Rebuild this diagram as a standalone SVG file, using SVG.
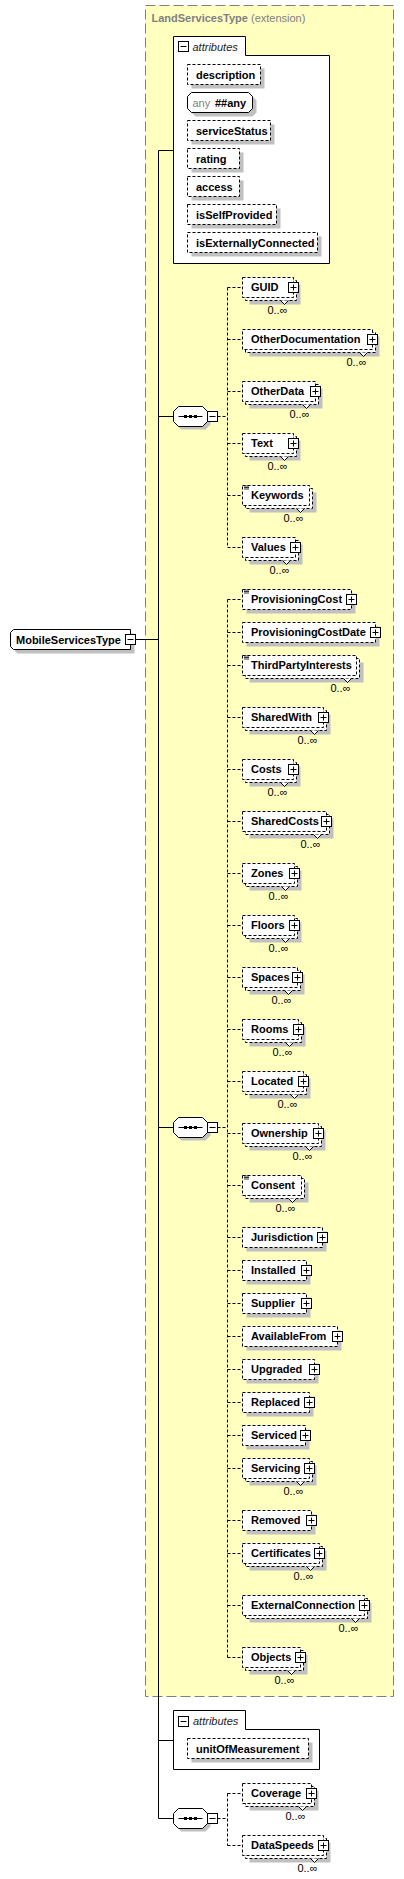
<svg xmlns="http://www.w3.org/2000/svg" xmlns:xlink="http://www.w3.org/1999/xlink" width="404" height="1879" viewBox="0 0 404 1879">
<style>
.t{font-family:"Liberation Sans",Arial,sans-serif;font-size:11px;font-weight:bold;fill:#000}
.m{font-family:"Liberation Sans",Arial,sans-serif;font-size:11px;fill:#000;text-anchor:end}
.i{font-family:"Liberation Sans",Arial,sans-serif;font-size:11px;font-style:italic;fill:#222}
.g{font-family:"Liberation Sans",Arial,sans-serif;font-size:11px;fill:#808080}
.el{fill:#fff;stroke:#000;stroke-width:1;stroke-dasharray:3,2}
.so{fill:#fff;stroke:#000;stroke-width:1}
.sh{fill:#c0c0c0}
.nt{fill:#fff;stroke:#000;stroke-width:1}
.cn{fill:none;stroke:#000;stroke-width:1}
.cd{fill:none;stroke:#000;stroke-width:1;stroke-dasharray:3,2}
</style>
<defs>
<g id="plus"><rect x="-5" y="-5" width="10" height="10" fill="#fff" stroke="#000"/><path d="M-3 0H3M0 -3V3" stroke="#000"/></g>
<g id="minus"><rect x="-5" y="-5" width="10" height="10" fill="#fff" stroke="#000"/><path d="M-3 0H3" stroke="#000"/></g>
<g id="eq"><path d="M244 -9H249M244 -7.5H249M244 -6H249" stroke="#000" stroke-width="0.8"/></g>
<g id="seqshape">
<polygon class="sh" transform="translate(3,3)" points="178.5,-9.5 202.5,-9.5 207.5,-4.5 207.5,5.5 202.5,10.5 178.5,10.5 173.5,5.5 173.5,-4.5"/>
<polygon class="so" points="178.5,-9.5 202.5,-9.5 207.5,-4.5 207.5,5.5 202.5,10.5 178.5,10.5 173.5,5.5 173.5,-4.5"/>
<path d="M178.5 0.5H202.5" stroke="#000"/>
<rect x="184" y="-1" width="3" height="3" fill="#000"/>
<rect x="189" y="-1" width="3" height="3" fill="#000"/>
<rect x="194" y="-1" width="3" height="3" fill="#000"/>
<use xlink:href="#minus" href="#minus" x="212.5" y="0.5"/>
</g>
</defs>

<rect id="bg" x="0" y="0" width="404" height="1879" fill="#fff"/>

<g id="LandServicesType">
<rect x="145.5" y="5.5" width="248" height="1691" fill="#ffffc0" stroke="#808080" stroke-dasharray="10,4"/>
<text x="151.5" y="21.5" class="g"><tspan font-weight="bold">LandServicesType</tspan> (extension)</text>
</g>

<g id="connectors">
<path class="cn" d="M158.5 150.5V1818.5M158.5 150.5H173.5M135.5 639.5H158.5M158.5 416.5H173.5M158.5 1127.5H173.5M158.5 1740.5H173.5M158.5 1818.5H173.5"/>
<path class="cd" d="M217.5 416.5H227.5M227.5 287.5V547.5M227.5 287.5H242.5M227.5 339.5H242.5M227.5 391.5H242.5M227.5 443.5H242.5M227.5 495.5H242.5M227.5 547.5H242.5"/>
<path class="cd" d="M217.5 1127.5H227.5M227.5 599.5V1657.5M227.5 599.5H242.5M227.5 632.5H242.5M227.5 665.5H242.5M227.5 717.5H242.5M227.5 769.5H242.5M227.5 821.5H242.5M227.5 873.5H242.5M227.5 925.5H242.5M227.5 977.5H242.5M227.5 1029.5H242.5M227.5 1081.5H242.5M227.5 1133.5H242.5M227.5 1185.5H242.5M227.5 1237.5H242.5M227.5 1270.5H242.5M227.5 1303.5H242.5M227.5 1336.5H242.5M227.5 1369.5H242.5M227.5 1402.5H242.5M227.5 1435.5H242.5M227.5 1468.5H242.5M227.5 1520.5H242.5M227.5 1553.5H242.5M227.5 1605.5H242.5M227.5 1657.5H242.5"/>
<path class="cd" d="M217.5 1818.5H227.5M227.5 1793.5V1845.5M227.5 1793.5H242.5M227.5 1845.5H242.5"/>
</g>

<g id="MobileServicesType">
<polygon class="sh" transform="translate(4,4)" points="13.5,629.5 130.5,629.5 130.5,649.5 13.5,649.5 10.5,646.5 10.5,632.5"/>
<polygon class="so" points="13.5,629.5 130.5,629.5 130.5,649.5 13.5,649.5 10.5,646.5 10.5,632.5"/>
<text class="t" x="16" y="643.5">MobileServicesType</text>
<use xlink:href="#minus" href="#minus" x="130.5" y="639.5"/>
</g>

<g id="attributes1">
<polygon class="so" points="173.5,263.5 173.5,36.5 245.5,36.5 245.5,55.5 329.5,55.5 329.5,263.5"/>
<use xlink:href="#minus" href="#minus" x="183.5" y="46.5"/>
<text class="i" x="192.5" y="50.5">attributes</text>
</g>
<g id="a-description"><rect class="sh" x="191.5" y="68.5" width="73" height="20"/><rect class="el" x="187.5" y="64.5" width="73" height="20"/><text class="t" x="196" y="78.5">description</text></g>
<g id="a-any"><polygon class="sh" transform="translate(4,4)" points="191.5,92.5 248.5,92.5 252.5,96.5 252.5,108.5 248.5,112.5 191.5,112.5 187.5,108.5 187.5,96.5"/><polygon class="so" points="191.5,92.5 248.5,92.5 252.5,96.5 252.5,108.5 248.5,112.5 191.5,112.5 187.5,108.5 187.5,96.5"/><text class="g" x="192.5" y="106.5">any</text><text class="t" x="215" y="106.5">##any</text></g>
<g id="a-serviceStatus"><rect class="sh" x="191.5" y="124.5" width="83" height="20"/><rect class="el" x="187.5" y="120.5" width="83" height="20"/><text class="t" x="196" y="134.5">serviceStatus</text></g>
<g id="a-rating"><rect class="sh" x="191.5" y="152.5" width="52" height="20"/><rect class="el" x="187.5" y="148.5" width="52" height="20"/><text class="t" x="196" y="162.5">rating</text></g>
<g id="a-access"><rect class="sh" x="191.5" y="180.5" width="52" height="20"/><rect class="el" x="187.5" y="176.5" width="52" height="20"/><text class="t" x="196" y="190.5">access</text></g>
<g id="a-isSelfProvided"><rect class="sh" x="191.5" y="208.5" width="89" height="20"/><rect class="el" x="187.5" y="204.5" width="89" height="20"/><text class="t" x="196" y="218.5">isSelfProvided</text></g>
<g id="a-isExternallyConnected"><rect class="sh" x="191.5" y="236.5" width="130" height="20"/><rect class="el" x="187.5" y="232.5" width="130" height="20"/><text class="t" x="196" y="246.5">isExternallyConnected</text></g>

<g id="attributes2">
<polygon class="so" points="173.5,1769.5 173.5,1710.5 245.5,1710.5 245.5,1729.5 319.5,1729.5 319.5,1769.5"/>
<use xlink:href="#minus" href="#minus" x="183.5" y="1721.5"/>
<text class="i" x="193" y="1725">attributes</text>
</g>
<g id="a-unitOfMeasurement"><rect class="sh" x="191.5" y="1742.5" width="121" height="20"/><rect class="el" x="187.5" y="1738.5" width="121" height="20"/><text class="t" x="196" y="1752.5">unitOfMeasurement</text></g>

<g id="sequence1" transform="translate(0,416)"><use xlink:href="#seqshape" href="#seqshape"/></g>
<g id="sequence2" transform="translate(0,1127)"><use xlink:href="#seqshape" href="#seqshape"/></g>
<g id="sequence3" transform="translate(0,1818)"><use xlink:href="#seqshape" href="#seqshape"/></g>

<g id="e-GUID" transform="translate(0,287)"><rect class="sh" x="249.5" y="-2.5" width="51" height="20"/><rect class="el" x="245.5" y="-6.5" width="51" height="20"/><rect class="el" x="242.5" y="-9.5" width="51" height="20"/><polyline class="nt" points="280.5,13.5 284.5,17.5 288.5,13.5"/><use xlink:href="#plus" href="#plus" x="293.5" y="0.5"/><text class="t" x="251" y="4">GUID</text><text class="m" x="287.5" y="27">0..∞</text></g>
<g id="e-OtherDocumentation" transform="translate(0,339)"><rect class="sh" x="249.5" y="-2.5" width="130" height="20"/><rect class="el" x="245.5" y="-6.5" width="130" height="20"/><rect class="el" x="242.5" y="-9.5" width="130" height="20"/><polyline class="nt" points="359.5,13.5 363.5,17.5 367.5,13.5"/><use xlink:href="#plus" href="#plus" x="372.5" y="0.5"/><text class="t" x="251" y="4">OtherDocumentation</text><text class="m" x="366.5" y="27">0..∞</text></g>
<g id="e-OtherData" transform="translate(0,391)"><rect class="sh" x="249.5" y="-2.5" width="73" height="20"/><rect class="el" x="245.5" y="-6.5" width="73" height="20"/><rect class="el" x="242.5" y="-9.5" width="73" height="20"/><polyline class="nt" points="302.5,13.5 306.5,17.5 310.5,13.5"/><use xlink:href="#plus" href="#plus" x="315.5" y="0.5"/><text class="t" x="251" y="4">OtherData</text><text class="m" x="309.5" y="27">0..∞</text></g>
<g id="e-Text" transform="translate(0,443)"><rect class="sh" x="249.5" y="-2.5" width="51" height="20"/><rect class="el" x="245.5" y="-6.5" width="51" height="20"/><rect class="el" x="242.5" y="-9.5" width="51" height="20"/><polyline class="nt" points="280.5,13.5 284.5,17.5 288.5,13.5"/><use xlink:href="#plus" href="#plus" x="293.5" y="0.5"/><text class="t" x="251" y="4">Text</text><text class="m" x="287.5" y="27">0..∞</text></g>
<g id="e-Keywords" transform="translate(0,495)"><rect class="sh" x="249.5" y="-2.5" width="67" height="20"/><rect class="el" x="245.5" y="-6.5" width="67" height="20"/><rect class="el" x="242.5" y="-9.5" width="67" height="20"/><polyline class="nt" points="296.5,13.5 300.5,17.5 304.5,13.5"/><use xlink:href="#eq" href="#eq"/><text class="t" x="251" y="4">Keywords</text><text class="m" x="303.5" y="27">0..∞</text></g>
<g id="e-Values" transform="translate(0,547)"><rect class="sh" x="249.5" y="-2.5" width="53" height="20"/><rect class="el" x="245.5" y="-6.5" width="53" height="20"/><rect class="el" x="242.5" y="-9.5" width="53" height="20"/><polyline class="nt" points="282.5,13.5 286.5,17.5 290.5,13.5"/><use xlink:href="#plus" href="#plus" x="295.5" y="0.5"/><text class="t" x="251" y="4">Values</text><text class="m" x="289.5" y="27">0..∞</text></g>

<g id="e-ProvisioningCost" transform="translate(0,599)"><rect class="sh" x="246.5" y="-5.5" width="109" height="20"/><rect class="el" x="242.5" y="-9.5" width="109" height="20"/><use xlink:href="#eq" href="#eq"/><use xlink:href="#plus" href="#plus" x="351.5" y="0.5"/><text class="t" x="251" y="4">ProvisioningCost</text></g>
<g id="e-ProvisioningCostDate" transform="translate(0,632)"><rect class="sh" x="246.5" y="-5.5" width="133" height="20"/><rect class="el" x="242.5" y="-9.5" width="133" height="20"/><use xlink:href="#plus" href="#plus" x="375.5" y="0.5"/><text class="t" x="251" y="4">ProvisioningCostDate</text></g>
<g id="e-ThirdPartyInterests" transform="translate(0,665)"><rect class="sh" x="249.5" y="-2.5" width="114" height="20"/><rect class="el" x="245.5" y="-6.5" width="114" height="20"/><rect class="el" x="242.5" y="-9.5" width="114" height="20"/><polyline class="nt" points="343.5,13.5 347.5,17.5 351.5,13.5"/><use xlink:href="#eq" href="#eq"/><text class="t" x="251" y="4">ThirdPartyInterests</text><text class="m" x="350.5" y="27">0..∞</text></g>
<g id="e-SharedWith" transform="translate(0,717)"><rect class="sh" x="249.5" y="-2.5" width="81" height="20"/><rect class="el" x="245.5" y="-6.5" width="81" height="20"/><rect class="el" x="242.5" y="-9.5" width="81" height="20"/><polyline class="nt" points="310.5,13.5 314.5,17.5 318.5,13.5"/><use xlink:href="#plus" href="#plus" x="323.5" y="0.5"/><text class="t" x="251" y="4">SharedWith</text><text class="m" x="317.5" y="27">0..∞</text></g>
<g id="e-Costs" transform="translate(0,769)"><rect class="sh" x="249.5" y="-2.5" width="51" height="20"/><rect class="el" x="245.5" y="-6.5" width="51" height="20"/><rect class="el" x="242.5" y="-9.5" width="51" height="20"/><polyline class="nt" points="280.5,13.5 284.5,17.5 288.5,13.5"/><use xlink:href="#plus" href="#plus" x="293.5" y="0.5"/><text class="t" x="251" y="4">Costs</text><text class="m" x="287.5" y="27">0..∞</text></g>
<g id="e-SharedCosts" transform="translate(0,821)"><rect class="sh" x="249.5" y="-2.5" width="84" height="20"/><rect class="el" x="245.5" y="-6.5" width="84" height="20"/><rect class="el" x="242.5" y="-9.5" width="84" height="20"/><polyline class="nt" points="313.5,13.5 317.5,17.5 321.5,13.5"/><use xlink:href="#plus" href="#plus" x="326.5" y="0.5"/><text class="t" x="251" y="4">SharedCosts</text><text class="m" x="320.5" y="27">0..∞</text></g>
<g id="e-Zones" transform="translate(0,873)"><rect class="sh" x="249.5" y="-2.5" width="52" height="20"/><rect class="el" x="245.5" y="-6.5" width="52" height="20"/><rect class="el" x="242.5" y="-9.5" width="52" height="20"/><polyline class="nt" points="281.5,13.5 285.5,17.5 289.5,13.5"/><use xlink:href="#plus" href="#plus" x="294.5" y="0.5"/><text class="t" x="251" y="4">Zones</text><text class="m" x="288.5" y="27">0..∞</text></g>
<g id="e-Floors" transform="translate(0,925)"><rect class="sh" x="249.5" y="-2.5" width="52" height="20"/><rect class="el" x="245.5" y="-6.5" width="52" height="20"/><rect class="el" x="242.5" y="-9.5" width="52" height="20"/><polyline class="nt" points="281.5,13.5 285.5,17.5 289.5,13.5"/><use xlink:href="#plus" href="#plus" x="294.5" y="0.5"/><text class="t" x="251" y="4">Floors</text><text class="m" x="288.5" y="27">0..∞</text></g>
<g id="e-Spaces" transform="translate(0,977)"><rect class="sh" x="249.5" y="-2.5" width="55" height="20"/><rect class="el" x="245.5" y="-6.5" width="55" height="20"/><rect class="el" x="242.5" y="-9.5" width="55" height="20"/><polyline class="nt" points="284.5,13.5 288.5,17.5 292.5,13.5"/><use xlink:href="#plus" href="#plus" x="297.5" y="0.5"/><text class="t" x="251" y="4">Spaces</text><text class="m" x="291.5" y="27">0..∞</text></g>
<g id="e-Rooms" transform="translate(0,1029)"><rect class="sh" x="249.5" y="-2.5" width="56" height="20"/><rect class="el" x="245.5" y="-6.5" width="56" height="20"/><rect class="el" x="242.5" y="-9.5" width="56" height="20"/><polyline class="nt" points="285.5,13.5 289.5,17.5 293.5,13.5"/><use xlink:href="#plus" href="#plus" x="298.5" y="0.5"/><text class="t" x="251" y="4">Rooms</text><text class="m" x="292.5" y="27">0..∞</text></g>
<g id="e-Located" transform="translate(0,1081)"><rect class="sh" x="249.5" y="-2.5" width="61" height="20"/><rect class="el" x="245.5" y="-6.5" width="61" height="20"/><rect class="el" x="242.5" y="-9.5" width="61" height="20"/><polyline class="nt" points="290.5,13.5 294.5,17.5 298.5,13.5"/><use xlink:href="#plus" href="#plus" x="303.5" y="0.5"/><text class="t" x="251" y="4">Located</text><text class="m" x="297.5" y="27">0..∞</text></g>
<g id="e-Ownership" transform="translate(0,1133)"><rect class="sh" x="249.5" y="-2.5" width="76" height="20"/><rect class="el" x="245.5" y="-6.5" width="76" height="20"/><rect class="el" x="242.5" y="-9.5" width="76" height="20"/><polyline class="nt" points="305.5,13.5 309.5,17.5 313.5,13.5"/><use xlink:href="#plus" href="#plus" x="318.5" y="0.5"/><text class="t" x="251" y="4">Ownership</text><text class="m" x="312.5" y="27">0..∞</text></g>
<g id="e-Consent" transform="translate(0,1185)"><rect class="sh" x="249.5" y="-2.5" width="59" height="20"/><rect class="el" x="245.5" y="-6.5" width="59" height="20"/><rect class="el" x="242.5" y="-9.5" width="59" height="20"/><polyline class="nt" points="288.5,13.5 292.5,17.5 296.5,13.5"/><use xlink:href="#eq" href="#eq"/><text class="t" x="251" y="4">Consent</text><text class="m" x="295.5" y="27">0..∞</text></g>
<g id="e-Jurisdiction" transform="translate(0,1237)"><rect class="sh" x="246.5" y="-5.5" width="80" height="20"/><rect class="el" x="242.5" y="-9.5" width="80" height="20"/><use xlink:href="#plus" href="#plus" x="322.5" y="0.5"/><text class="t" x="251" y="4">Jurisdiction</text></g>
<g id="e-Installed" transform="translate(0,1270)"><rect class="sh" x="246.5" y="-5.5" width="64" height="20"/><rect class="el" x="242.5" y="-9.5" width="64" height="20"/><use xlink:href="#plus" href="#plus" x="306.5" y="0.5"/><text class="t" x="251" y="4">Installed</text></g>
<g id="e-Supplier" transform="translate(0,1303)"><rect class="sh" x="246.5" y="-5.5" width="64" height="20"/><rect class="el" x="242.5" y="-9.5" width="64" height="20"/><use xlink:href="#plus" href="#plus" x="306.5" y="0.5"/><text class="t" x="251" y="4">Supplier</text></g>
<g id="e-AvailableFrom" transform="translate(0,1336)"><rect class="sh" x="246.5" y="-5.5" width="95" height="20"/><rect class="el" x="242.5" y="-9.5" width="95" height="20"/><use xlink:href="#plus" href="#plus" x="337.5" y="0.5"/><text class="t" x="251" y="4">AvailableFrom</text></g>
<g id="e-Upgraded" transform="translate(0,1369)"><rect class="sh" x="246.5" y="-5.5" width="72" height="20"/><rect class="el" x="242.5" y="-9.5" width="72" height="20"/><use xlink:href="#plus" href="#plus" x="314.5" y="0.5"/><text class="t" x="251" y="4">Upgraded</text></g>
<g id="e-Replaced" transform="translate(0,1402)"><rect class="sh" x="246.5" y="-5.5" width="67" height="20"/><rect class="el" x="242.5" y="-9.5" width="67" height="20"/><use xlink:href="#plus" href="#plus" x="309.5" y="0.5"/><text class="t" x="251" y="4">Replaced</text></g>
<g id="e-Serviced" transform="translate(0,1435)"><rect class="sh" x="246.5" y="-5.5" width="63" height="20"/><rect class="el" x="242.5" y="-9.5" width="63" height="20"/><use xlink:href="#plus" href="#plus" x="305.5" y="0.5"/><text class="t" x="251" y="4">Serviced</text></g>
<g id="e-Servicing" transform="translate(0,1468)"><rect class="sh" x="249.5" y="-2.5" width="67" height="20"/><rect class="el" x="245.5" y="-6.5" width="67" height="20"/><rect class="el" x="242.5" y="-9.5" width="67" height="20"/><polyline class="nt" points="296.5,13.5 300.5,17.5 304.5,13.5"/><use xlink:href="#plus" href="#plus" x="309.5" y="0.5"/><text class="t" x="251" y="4">Servicing</text><text class="m" x="303.5" y="27">0..∞</text></g>
<g id="e-Removed" transform="translate(0,1520)"><rect class="sh" x="246.5" y="-5.5" width="69" height="20"/><rect class="el" x="242.5" y="-9.5" width="69" height="20"/><use xlink:href="#plus" href="#plus" x="311.5" y="0.5"/><text class="t" x="251" y="4">Removed</text></g>
<g id="e-Certificates" transform="translate(0,1553)"><rect class="sh" x="249.5" y="-2.5" width="77" height="20"/><rect class="el" x="245.5" y="-6.5" width="77" height="20"/><rect class="el" x="242.5" y="-9.5" width="77" height="20"/><polyline class="nt" points="306.5,13.5 310.5,17.5 314.5,13.5"/><use xlink:href="#plus" href="#plus" x="319.5" y="0.5"/><text class="t" x="251" y="4">Certificates</text><text class="m" x="313.5" y="27">0..∞</text></g>
<g id="e-ExternalConnection" transform="translate(0,1605)"><rect class="sh" x="249.5" y="-2.5" width="122" height="20"/><rect class="el" x="245.5" y="-6.5" width="122" height="20"/><rect class="el" x="242.5" y="-9.5" width="122" height="20"/><polyline class="nt" points="351.5,13.5 355.5,17.5 359.5,13.5"/><use xlink:href="#plus" href="#plus" x="364.5" y="0.5"/><text class="t" x="251" y="4">ExternalConnection</text><text class="m" x="358.5" y="27">0..∞</text></g>
<g id="e-Objects" transform="translate(0,1657)"><rect class="sh" x="249.5" y="-2.5" width="58" height="20"/><rect class="el" x="245.5" y="-6.5" width="58" height="20"/><rect class="el" x="242.5" y="-9.5" width="58" height="20"/><polyline class="nt" points="287.5,13.5 291.5,17.5 295.5,13.5"/><use xlink:href="#plus" href="#plus" x="300.5" y="0.5"/><text class="t" x="251" y="4">Objects</text><text class="m" x="294.5" y="27">0..∞</text></g>

<g id="e-Coverage" transform="translate(0,1793)"><rect class="sh" x="249.5" y="-2.5" width="69" height="20"/><rect class="el" x="245.5" y="-6.5" width="69" height="20"/><rect class="el" x="242.5" y="-9.5" width="69" height="20"/><polyline class="nt" points="298.5,13.5 302.5,17.5 306.5,13.5"/><use xlink:href="#plus" href="#plus" x="311.5" y="0.5"/><text class="t" x="251" y="4">Coverage</text><text class="m" x="305.5" y="27">0..∞</text></g>
<g id="e-DataSpeeds" transform="translate(0,1845)"><rect class="sh" x="249.5" y="-2.5" width="81" height="20"/><rect class="el" x="245.5" y="-6.5" width="81" height="20"/><rect class="el" x="242.5" y="-9.5" width="81" height="20"/><polyline class="nt" points="310.5,13.5 314.5,17.5 318.5,13.5"/><use xlink:href="#plus" href="#plus" x="323.5" y="0.5"/><text class="t" x="251" y="4">DataSpeeds</text><text class="m" x="317.5" y="27">0..∞</text></g>
</svg>
